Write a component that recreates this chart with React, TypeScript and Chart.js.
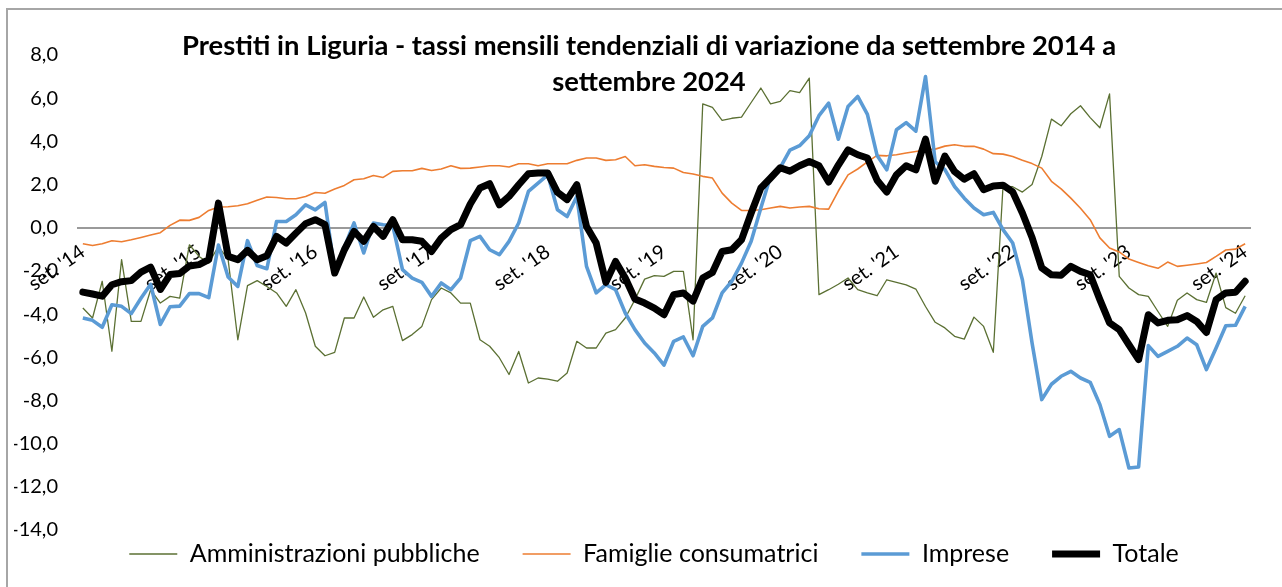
import React, { useEffect, useRef } from "react";
import { Chart, registerables } from "chart.js";

Chart.register(...registerables);

// ---- data ----
const monthNames = ["set.", "ott.", "nov.", "dic.", "gen.", "feb.", "mar.", "apr.", "mag.", "giu.", "lug.", "ago."];
const categories: string[] = [];
for (let i = 0; i < 121; i++) {
  const yr = 14 + Math.floor((i + 8) / 12);
  categories.push(`${monthNames[i % 12]} '${yr}`);
}

const titleLines = [
  "Prestiti in Liguria - tassi mensili tendenziali di variazione da settembre 2014 a",
  "settembre 2024",
];

const yTicks = [-14, -12, -10, -8, -6, -4, -2, 0, 2, 4, 6, 8];

const amministrazioni = [
  -3.72, -4.18, -2.48, -5.72, -1.48, -4.34, -4.34, -2.87, -3.49, -3.18,
  -3.26, -0.79, -1.33, -1.64, -0.86, -1.48, -5.19, -2.68, -2.45, -2.72,
  -3.02, -3.64, -2.87, -3.95, -5.49, -5.93, -5.77, -4.18, -4.18, -3.21,
  -4.15, -3.8, -3.64, -5.23, -4.95, -4.57, -3.33, -2.79, -3.02, -3.49,
  -3.49, -5.19, -5.49, -6.02, -6.8, -5.73, -7.19, -6.96, -7.01, -7.11,
  -6.73, -5.26, -5.57, -5.57, -4.88, -4.72, -4.18, -3.33, -2.38, -2.22,
  -2.25, -2.02, -2.02, -5.19, 5.74, 5.57, 4.97, 5.07, 5.12, 5.8,
  6.47, 5.74, 5.85, 6.35, 6.26, 6.93, -3.1, -2.87, -2.62, -2.33,
  -2.87, -3.02, -3.15, -2.41, -2.53, -2.65, -2.84, -3.65, -4.38, -4.64,
  -5.03, -5.16, -4.14, -4.57, -5.77, 1.91, 1.9, 1.65, 2.0, 3.3,
  5.03, 4.72, 5.28, 5.65, 5.1, 4.63, 6.2, -2.25, -2.79, -3.1,
  -3.18, -3.88, -4.57, -3.36, -3.02, -3.33, -3.46, -2.1, -3.7, -3.96,
  -3.15,
];

const famiglie = [
  -0.74, -0.82, -0.74, -0.6, -0.65, -0.56, -0.45, -0.34, -0.23, 0.11,
  0.35, 0.34, 0.48, 0.8, 0.96, 0.97, 1.02, 1.11, 1.27, 1.42,
  1.4, 1.34, 1.34, 1.45, 1.63, 1.6, 1.79, 1.96, 2.22, 2.27,
  2.42, 2.33, 2.61, 2.64, 2.64, 2.75, 2.65, 2.72, 2.87, 2.75,
  2.76, 2.81, 2.87, 2.87, 2.81, 2.96, 2.96, 2.87, 2.96, 2.96,
  2.96, 3.12, 3.23, 3.23, 3.12, 3.15, 3.3, 2.87, 2.92, 2.84,
  2.79, 2.76, 2.56, 2.49, 2.38, 2.3, 1.6, 1.14, 0.8, 0.8,
  0.83, 0.91, 0.99, 0.91, 0.96, 0.99, 0.88, 0.86, 1.7, 2.45,
  2.72, 3.05, 3.35, 3.33, 3.38, 3.46, 3.53, 3.61, 3.64, 3.78,
  3.84, 3.77, 3.77, 3.64, 3.43, 3.41, 3.3, 3.12, 2.97, 2.76,
  2.15, 1.8, 1.37, 0.9, 0.37, -0.47, -0.94, -1.12, -1.45, -1.61,
  -1.76, -1.88, -1.59, -1.79, -1.74, -1.68, -1.61, -1.33, -1.03, -0.99,
  -0.74,
];

const imprese = [
  -4.18, -4.29, -4.61, -3.57, -3.64, -3.98, -3.27, -2.62, -4.48, -3.66,
  -3.63, -3.05, -3.05, -3.24, -0.8, -2.28, -2.72, -0.6, -1.75, -1.9,
  0.29, 0.29, 0.6, 1.06, 0.83, 1.17, -2.0, -0.9, 0.22, -1.17,
  0.22, 0.14, 0.1, -1.94, -2.33, -2.53, -3.18, -2.56, -2.87, -2.33,
  -0.6, -0.4, -1.02, -1.25, -0.63, 0.22, 1.68, 2.07, 2.45, 0.83,
  0.52, 1.45, -1.79, -3.02, -2.64, -2.87, -3.95, -4.72, -5.34, -5.8,
  -6.36, -5.26, -5.06, -5.93, -4.57, -4.18, -3.02, -2.48, -1.64, -0.63,
  0.91, 2.38, 2.78, 3.59, 3.8, 4.26, 5.19, 5.77, 4.1, 5.62,
  6.08, 5.25, 3.35, 2.68, 4.54, 4.87, 4.47, 7.0, 3.05, 2.69,
  1.91, 1.37, 0.91, 0.6, 0.71, -0.09, -0.71, -2.41, -5.34, -7.96,
  -7.25, -6.88, -6.65, -6.96, -7.16, -8.19, -9.66, -9.35, -11.13, -11.08,
  -5.46, -5.96, -5.73, -5.49, -5.11, -5.42, -6.57, -5.57, -4.54, -4.52,
  -3.64,
];

const totale = [
  -2.98, -3.07, -3.17, -2.64, -2.5, -2.45, -2.06, -1.83, -2.86, -2.17,
  -2.12, -1.77, -1.71, -1.48, 1.14, -1.33, -1.48, -1.05, -1.48, -1.3,
  -0.4, -0.71, -0.25, 0.19, 0.37, 0.14, -2.1, -1.02, -0.17, -0.63,
  0.06, -0.4, 0.37, -0.56, -0.56, -0.63, -1.1, -0.48, -0.09, 0.14,
  1.1, 1.84, 2.04, 1.06, 1.45, 1.99, 2.5, 2.53, 2.53, 1.64,
  1.3, 1.99, 0.06, -0.71, -2.53, -1.56, -2.33, -3.3, -3.49, -3.72,
  -4.03, -3.1, -3.02, -3.4, -2.33, -2.07, -1.1, -1.02, -0.56, 0.68,
  1.84, 2.3, 2.78, 2.62, 2.87, 3.07, 2.87, 2.12, 2.9, 3.61,
  3.38, 3.23, 2.2, 1.65, 2.45, 2.87, 2.68, 4.1, 2.15, 3.32,
  2.6, 2.25, 2.5, 1.76, 1.93, 1.97, 1.66, 0.68, -0.45, -1.86,
  -2.18, -2.2, -1.79, -2.02, -2.18, -3.33, -4.41, -4.72, -5.42, -6.11,
  -4.03, -4.41, -4.29, -4.26, -4.07, -4.34, -4.85, -3.33, -3.02, -2.99,
  -2.48,
];

const FONT = "Lato, 'Open Sans', sans-serif";
const LEGEND_FONT_SIZE = 25;
const LEGEND_GAP = 43;
const LEGEND_CENTER_Y = 554;
const LEGEND_SHIFT_X = 22;

const titlePlugin = {
  id: "excelTitle",
  afterDraw(chart: any) {
    const ctx = chart.ctx;
    ctx.save();
    ctx.font = `bold 27.4px ${FONT}`;
    ctx.fillStyle = "#000";
    ctx.textAlign = "center";
    ctx.textBaseline = "alphabetic";
    titleLines.forEach((t, k) => ctx.fillText(t, 649, 55 + k * 36));
    ctx.restore();
  },
};

const legendPlacePlugin = {
  id: "legendPlace",
  afterLayout(chart: any) {
    const lg = chart.legend;
    if (!lg) return;
    lg.top = LEGEND_CENTER_Y - LEGEND_GAP - LEGEND_FONT_SIZE / 2;
    lg.bottom = chart.height;
    lg.height = lg.bottom - lg.top;
    lg.left += LEGEND_SHIFT_X;
    lg.right += LEGEND_SHIFT_X;
  },
};

export default function App() {
  const ref = useRef<HTMLCanvasElement | null>(null);

  useEffect(() => {
    if (!ref.current) return;
    const chart = new Chart(ref.current, {
      type: "line",
      data: {
        labels: categories,
        datasets: [
          {
            label: "Amministrazioni pubbliche",
            data: amministrazioni,
            borderColor: "#5b7033",
            backgroundColor: "#5b7033",
            borderWidth: 1.3,
            order: 3,
          },
          {
            label: "Famiglie consumatrici",
            data: famiglie,
            borderColor: "#ED7D31",
            backgroundColor: "#ED7D31",
            borderWidth: 1.6,
            order: 2,
          },
          {
            label: "Imprese",
            data: imprese,
            borderColor: "#5B9BD5",
            backgroundColor: "#5B9BD5",
            borderWidth: 3.6,
            order: 1,
          },
          {
            label: "Totale",
            data: totale,
            borderColor: "#000000",
            backgroundColor: "#000000",
            borderWidth: 7,
            borderCapStyle: "round",
            order: 0,
          },
        ],
      },
      options: {
        animation: false,
        responsive: false,
        events: [],
        layout: { padding: { left: 14, top: 55, right: 32, bottom: 12 } },
        elements: {
          point: { radius: 0 },
          line: { tension: 0, borderJoinStyle: "round", fill: false },
        },
        scales: {
          x: {
            type: "category",
            offset: true,
            position: { y: 0 } as any,
            grid: { display: false, drawTicks: false },
            border: { display: true, color: "#9a9a9a", width: 2 },
            afterBuildTicks: (s: any) => {
              s.ticks = s.ticks.filter((t: any) => t.value % 12 === 0);
            },
            ticks: {
              autoSkip: false,
              minRotation: 35,
              maxRotation: 35,
              padding: 12,
              color: "#000",
              font: { family: FONT, size: 20 },
            },
          },
          y: {
            min: -14,
            max: 8,
            afterBuildTicks: (s: any) => {
              s.ticks = yTicks.map((v) => ({ value: v }));
            },
            afterFit: (s: any) => {
              s.width = 64;
            },
            grid: { display: false, drawTicks: false },
            border: { display: false },
            ticks: {
              padding: 20,
              color: "#000",
              font: { family: FONT, size: 20 },
              callback: (v: any) => Number(v).toFixed(1).replace(".", ","),
            },
          },
        },
        plugins: {
          title: { display: false },
          tooltip: { enabled: false },
          legend: {
            display: true,
            position: "bottom",
            maxHeight: 45,
            labels: {
              usePointStyle: true,
              pointStyle: "line",
              pointStyleWidth: 48,
              padding: LEGEND_GAP,
              color: "#000",
              font: { family: FONT, size: LEGEND_FONT_SIZE },
              sort: (a: any, b: any) => a.datasetIndex - b.datasetIndex,
            },
          },
        },
      },
      plugins: [titlePlugin, legendPlacePlugin],
    } as any);
    return () => chart.destroy();
  }, []);

  return (
    <>
      <div
        style={{
          position: "fixed",
          left: 6,
          top: 8,
          width: 1276,
          height: 579,
          boxSizing: "border-box",
          borderLeft: "2px solid #a6a6a6",
          borderTop: "2px solid #a6a6a6",
          background: "#fff",
        }}
      />
      <canvas
        ref={ref}
        width={1282}
        height={587}
        style={{ position: "fixed", left: 0, top: 0, width: 1282, height: 587, display: "block" }}
      />
    </>
  );
}
